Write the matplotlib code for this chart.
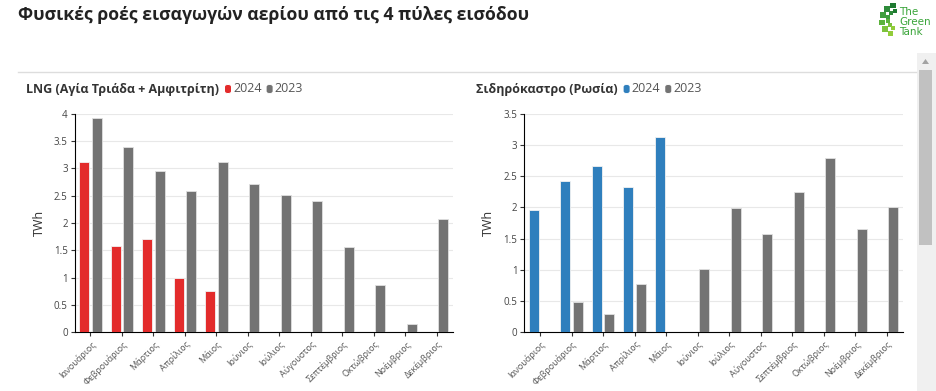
import matplotlib.pyplot as plt
import matplotlib.patches as mpatches
import numpy as np

plt.rcParams["font.family"] = ["Open Sans", "DejaVu Sans"]
plt.rcParams["axes.unicode_minus"] = False

months = ["Ιανουάριος", "Φεβρουάριος", "Μάρτιος", "Απρίλιος", "Μάιος", "Ιούνιος",
          "Ιούλιος", "Αύγουστος", "Σεπτέμβριος", "Οκτώβριος", "Νοέμβριος", "Δεκέμβριος"]

# LNG (Αγία Τριάδα + Αμφιτρίτη), TWh
lng_2024 = [3.12, 1.58, 1.70, 1.00, 0.75, None, None, None, None, None, None, None]
lng_2023 = [3.92, 3.39, 2.96, 2.59, 3.12, 2.71, 2.51, 2.41, 1.56, 0.87, 0.15, 2.08]

# Σιδηρόκαστρο (Ρωσία), TWh
sid_2024 = [1.96, 2.43, 2.67, 2.33, 3.13, None, None, None, None, None, None, None]
sid_2023 = [0.0, 0.48, 0.29, 0.78, 0.0, 1.02, 1.99, 1.58, 2.25, 2.79, 1.65, 2.01]

W, H = 936, 391
fig = plt.figure(figsize=(W / 100, H / 100), dpi=100)
fig.patch.set_facecolor("white")


def px(x0, y0, x1, y1):
    return [x0 / W, 1 - y1 / H, (x1 - x0) / W, (y1 - y0) / H]


def panel(rect, a, b, col, ymax, title, tx):
    ax = fig.add_axes(rect)
    x = np.arange(len(months))
    va = [np.nan if v is None else v for v in a]
    ax.bar(x - 0.2, va, width=0.32, color=col, edgecolor="#f2f2f2", linewidth=0.6, zorder=3)
    ax.bar(x + 0.2, b, width=0.32, color="#737373", edgecolor="#e0e0e0", linewidth=0.6, zorder=3)
    ax.set_xlim(-0.5, len(months) - 0.5)
    ax.set_ylim(0, ymax)
    ticks = np.arange(0, ymax + 0.01, 0.5)
    ax.set_yticks(ticks)
    ax.set_yticklabels([("%g" % t) for t in ticks], fontsize=7, color="#444444")
    ax.set_xticks(x)
    ax.set_xticklabels(months, rotation=45, ha="right", rotation_mode="anchor",
                       fontsize=6.5, color="#555555")
    ax.tick_params(axis="both", length=3, width=0.8, color="#333333", pad=2)
    ax.grid(axis="y", color="#e8e8e8", linewidth=0.8, zorder=0)
    for s in ["top", "right"]:
        ax.spines[s].set_visible(False)
    ax.spines["left"].set_color("black")
    ax.spines["bottom"].set_color("black")
    ax.set_ylabel("TWh", fontsize=9, color="#333333", labelpad=6)
    t = fig.text(tx / W, 1 - 89 / H, title, fontsize=9, fontweight="bold",
                 color="#333333", va="center", ha="left")
    fig.canvas.draw()
    bb = t.get_window_extent()
    xx = bb.x1 + 6
    for lab, c in [("2024", col), ("2023", "#737373")]:
        fig.patches.append(mpatches.FancyBboxPatch(
            (xx / W, (H - 93.5) / H), 6 / W, 9 / H,
            boxstyle="round,pad=0,rounding_size=0.006", transform=fig.transFigure,
            facecolor=c, edgecolor="none"))
        tt = fig.text((xx + 8) / W, 1 - 89 / H, lab, fontsize=9, color="#555555",
                      va="center", ha="left")
        fig.canvas.draw()
        xx = tt.get_window_extent().x1 + 5
    return ax


panel(px(74.7, 113.7, 452.7, 332.3), lng_2024, lng_2023, "#e32b2b", 4,
      "LNG (Αγία Τριάδα + Αμφιτρίτη)", 26)
panel(px(524.3, 113.7, 902.7, 332.3), sid_2024, sid_2023, "#2f7fbd", 3.5,
      "Σιδηρόκαστρο (Ρωσία)", 476)

# main title
fig.text(18 / W, 1 - 15 / H, "Φυσικές ροές εισαγωγών αερίου από τις 4 πύλες εισόδου",
         fontsize=12.7, fontweight="bold", color="#222222", va="center", ha="left",
         family=["Liberation Sans Narrow", "Open Sans", "DejaVu Sans"])

# separator line
fig.add_artist(plt.Line2D([18 / W, 916 / W], [1 - 72 / H, 1 - 72 / H],
                          color="#dddddd", linewidth=1, transform=fig.transFigure))

# logo
fig.text(899 / W, 1 - 22 / H, "The\nGreen\nTank", fontsize=7.5, color="#3aa53a",
         va="center", ha="left", linespacing=0.95,
         family=["Liberation Sans Narrow", "DejaVu Sans"])
greens = ["#1f7a32", "#2e8b3a", "#3f9e3e", "#5cb23c", "#7dc23c", "#92cc3a"]
cx, cy = 897, 20
for r, sz in [(9, 4), (15, 5.5)]:
    for k, ang in enumerate(np.linspace(105, 245, 6)):
        a = np.deg2rad(ang)
        qx = cx + r * np.cos(a)
        qy = cy - r * np.sin(a)
        fig.patches.append(mpatches.Rectangle(((qx - sz / 2) / W, 1 - (qy + sz / 2) / H),
                                              sz / W, sz / H, transform=fig.transFigure,
                                              facecolor=greens[k], edgecolor="none"))

# scroll bar
fig.patches.append(mpatches.Rectangle((916.7 / W, 0), 19.3 / W, (H - 53) / H,
                                      transform=fig.transFigure, facecolor="#f0f0f0",
                                      edgecolor="none"))
fig.patches.append(mpatches.Rectangle((919 / W, 1 - 245 / H), 13.3 / W, 175 / H,
                                      transform=fig.transFigure, facecolor="#c1c1c1",
                                      edgecolor="none"))
fig.patches.append(mpatches.Polygon([[922 / W, 1 - 64 / H], [929 / W, 1 - 64 / H],
                                     [925.5 / W, 1 - 59 / H]], closed=True,
                                    transform=fig.transFigure, facecolor="#a3a3a3",
                                    edgecolor="none"))

fig.savefig("out.png", dpi=100, facecolor="white")
